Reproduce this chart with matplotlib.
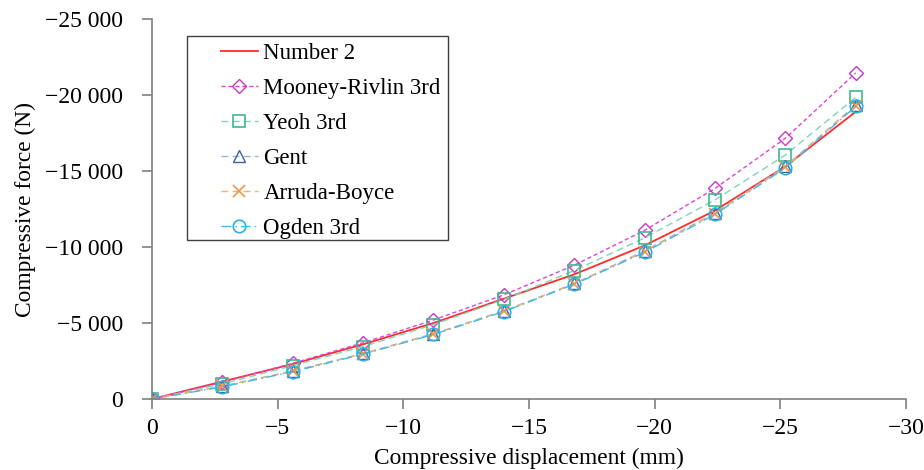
import matplotlib.pyplot as plt
from matplotlib.patches import Rectangle
from matplotlib.ticker import FuncFormatter, MultipleLocator

plt.rcParams["font.family"] = ["Liberation Serif", "DejaVu Serif"]
plt.rcParams["font.size"] = 17

disp = [0, -2.8, -5.6, -8.4, -11.2, -14, -16.8, -19.6, -22.4, -25.2, -28]
number2 = [0, -1150, -2300, -3600, -5000, -6600, -8200, -10100, -12400, -15300, -18900]
mooney = [0, -1100, -2350, -3700, -5200, -6850, -8800, -11100, -13850, -17150, -21450]
yeoh = [0, -1000, -2200, -3450, -4900, -6550, -8450, -10600, -13100, -16050, -19850]
gent = [0, -850, -1850, -3000, -4300, -5800, -7600, -9750, -12250, -15300, -19350]
arruda = [0, -830, -1820, -2970, -4270, -5770, -7570, -9700, -12200, -15250, -19300]
ogden = [0, -800, -1800, -2950, -4250, -5750, -7550, -9650, -12150, -15200, -19250]

fig = plt.figure(figsize=(9.24, 4.70), dpi=100)
ax = fig.add_axes([0.1645, 0.151, 0.816, 0.8086])

ax.plot(disp, number2, color="#ff2a2a", lw=1.3, label="Number 2")
ax.plot(disp, mooney, color="#dd44dd", lw=1.0, ls=(0, (3, 2)), marker="D", ms=7,
        mfc="none", mec="#cc33cc", mew=1.0, label="Mooney-Rivlin 3rd")
ax.plot(disp, yeoh, color="#7fd6b4", lw=1.0, ls=(0, (5, 3)), marker="s", ms=9,
        mfc="none", mec="#3cb98f", mew=1.2, label="Yeoh 3rd")
ax.plot(disp, gent, color="#9fb3d8", lw=1.0, ls=(0, (5, 3)), marker="^", ms=8,
        mfc="none", mec="#3b5fa0", mew=1.0, label="Gent")
ax.plot(disp, arruda, color="#f6b26b", lw=1.0, ls=(0, (5, 3)), marker="x", ms=8,
        mec="#f0954a", mew=1.2, label="Arruda-Boyce")
ax.plot(disp, ogden, color="#3dbbea", lw=1.0, ls=(0, (7, 3, 1, 3)), marker="o", ms=9,
        mfc="none", mec="#2fb0e6", mew=1.2, label="Ogden 3rd")

ax.set_xlim(0, -30)
ax.set_ylim(0, -25000)
ax.xaxis.set_major_locator(MultipleLocator(5))
ax.yaxis.set_major_locator(MultipleLocator(5000))


def fmt_x(v, pos):
    v = int(round(v))
    return str(v).replace("-", "\u2212")


def fmt_y(v, pos):
    v = int(round(v))
    s = f"{abs(v):,}".replace(",", " ")
    return ("\u2212" + s) if v < 0 else s


ax.xaxis.set_major_formatter(FuncFormatter(fmt_x))
ax.yaxis.set_major_formatter(FuncFormatter(fmt_y))

for side in ["top", "right"]:
    ax.spines[side].set_visible(False)
for side in ["left", "bottom"]:
    ax.spines[side].set_color("#808080")
    ax.spines[side].set_linewidth(1.2)
ax.tick_params(direction="out", length=7, width=1.2, color="#808080", labelsize=17)
ax.tick_params(axis="y", pad=14)
ax.tick_params(axis="x", pad=7)

ax.set_xlabel("Compressive displacement (mm)", fontsize=16.8, labelpad=6)
ax.set_ylabel("Compressive force (N)", fontsize=16.8, labelpad=6)

# legend without frame, box drawn separately
leg = ax.legend(loc="upper left", bbox_to_anchor=(221 / 924, 1 - 43 / 470),
                bbox_transform=fig.transFigure, frameon=False,
                handlelength=1.6, handletextpad=0.25, labelspacing=0.61,
                fontsize=16.5, borderpad=0, borderaxespad=0)
fig.patches.append(Rectangle((187 / 924, 1 - 240 / 470), 261 / 924, 204 / 470,
                             transform=fig.transFigure, fill=False,
                             edgecolor="#404040", lw=1.0))

fig.savefig("out.png", dpi=100)
